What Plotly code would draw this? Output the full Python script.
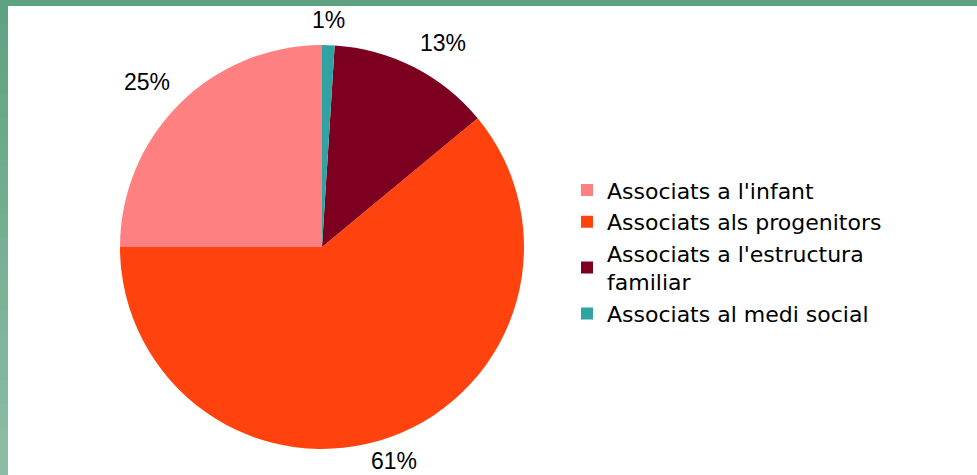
import math
import plotly.graph_objects as go

labels = ["Associats a l'infant", "Associats als progenitors",
          "Associats a l'estructura<br>familiar", "Associats al medi social"]
values = [25, 61, 13, 1]
colors = ["#ff8080", "#ff420e", "#7e0021", "#31a2a2"]

W, H = 977, 475
cx, cy, r = 322, 247, 202

fig = go.Figure(go.Pie(
    labels=labels, values=values, sort=False, direction="counterclockwise", rotation=-90,
    marker=dict(colors=colors, line=dict(width=0)),
    textinfo="none",
    domain=dict(x=[(cx - r) / W, (cx + r) / W], y=[(H - cy - r) / H, (H - cy + r) / H]),
    hoverinfo="label+percent",
))

# percentage labels placed outside each slice, at the slice's mid angle
total = sum(values)
R = r + 10
annotations = []
cum = 0.0
for v in values:
    f = (cum + v / 2) / total
    cum += v
    ang = -f * 2 * math.pi  # clockwise angle from 12 o'clock (slices run counterclockwise)
    s, c = math.sin(ang), math.cos(ang)
    px = cx + R * s
    py = cy - R * c
    xanchor = "center" if abs(s) < 0.4 else ("left" if s > 0 else "right")
    yanchor = "bottom" if c > 0 else "top"
    annotations.append(dict(
        x=px / W, y=1 - py / H, xref="paper", yref="paper",
        text="%d%%" % round(v / total * 100), showarrow=False,
        xanchor=xanchor, yanchor=yanchor,
        font=dict(family="Liberation Sans", size=23, color="#000000"),
    ))

shapes = []
# left bar with vertical gradient via overlapping strips
n = 20
c0 = (0x5f, 0xa2, 0x82)
c1 = (0x8c, 0xbd, 0xa4)
for i in range(n):
    t = i / (n - 1)
    col = "rgb(%d,%d,%d)" % tuple(round(a + (b - a) * t) for a, b in zip(c0, c1))
    shapes.append(dict(type="rect", xref="paper", yref="paper", x0=0, x1=8 / W,
                       y0=max(0, 1 - (i + 1) / n - 0.01), y1=1 - i / n,
                       fillcolor=col, line=dict(width=0), layer="above"))
# top bar
shapes.append(dict(type="rect", xref="paper", yref="paper", x0=0, x1=1, y0=1 - 6 / H, y1=1,
                   fillcolor="#5fa282", line=dict(width=0), layer="above"))

fig.update_layout(
    width=W, height=H, margin=dict(l=0, r=0, t=0, b=0),
    paper_bgcolor="white", plot_bgcolor="white",
    shapes=shapes, annotations=annotations,
    legend=dict(x=567 / W, y=0.47, xanchor="left", yanchor="middle",
                font=dict(family="DejaVu Sans", size=22, color="#000000"),
                itemwidth=30),
    showlegend=True,
)

fig.write_html("out.html", config={"displayModeBar": False},
               post_script="document.body.style.margin='0';document.body.style.overflow='hidden';")
